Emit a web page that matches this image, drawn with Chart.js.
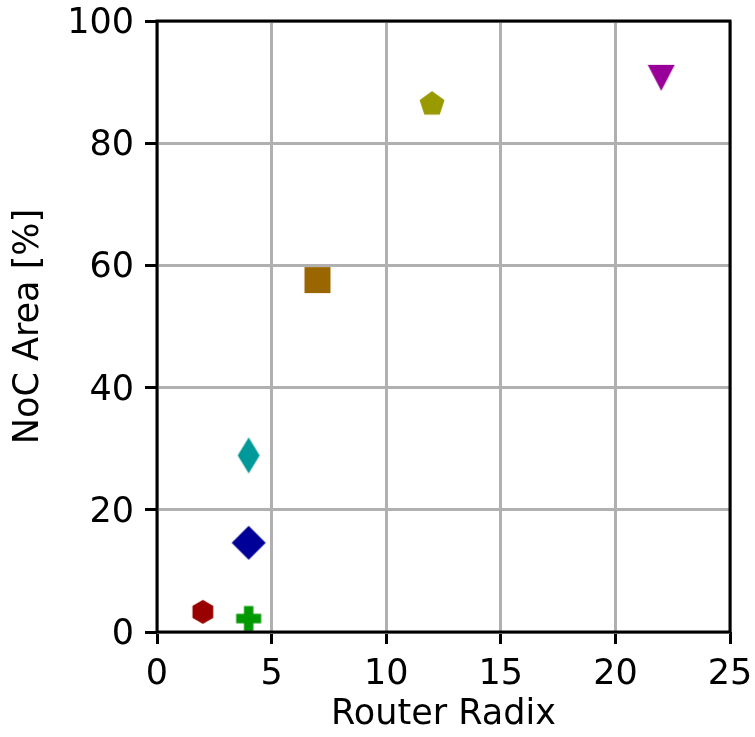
<!DOCTYPE html>
<html>
<head>
<meta charset="utf-8">
<script src="https://cdn.jsdelivr.net/npm/chart.js@4/dist/chart.umd.min.js"></script>
<style>
html,body{margin:0;padding:0;background:#fff;}
#wrap{width:755px;height:737px;}
</style>
</head>
<body>
<div id="wrap"><canvas id="c" width="755" height="737"></canvas></div>
<script>
// Data
const radix    = [2, 4, 4, 4, 7, 12, 22];
const nocArea  = [3.3, 2.2, 14.6, 28.9, 57.6, 86.4, 90.7];
const xTicks   = [0, 5, 10, 15, 20, 25];
const yTicks   = [0, 20, 40, 60, 80, 100];

// Styles
const markerShapes = ['hexagon', 'plus', 'diamond', 'thinDiamond', 'square', 'pentagon', 'triangleDown'];
const markerColors = ['#990000', '#009900', '#000099', '#009999', '#996600', '#999900', '#990099'];

function makeMarker(shape, color) {
  const c = document.createElement('canvas');
  let w = 28, h = 28;
  if (shape === 'diamond') { w = 36; h = 36; }
  if (shape === 'thinDiamond') { w = 24; h = 38; }
  c.width = w; c.height = h;
  const g = c.getContext('2d');
  g.fillStyle = color;
  const cx = w / 2, cy = h / 2;
  g.beginPath();
  if (shape === 'hexagon') {
    const r = 12;
    for (let i = 0; i < 6; i++) {
      const a = -Math.PI / 2 + i * Math.PI / 3;
      const px = cx + r * Math.cos(a), py = cy + r * Math.sin(a);
      i ? g.lineTo(px, py) : g.moveTo(px, py);
    }
  } else if (shape === 'pentagon') {
    const r = 13.1;
    for (let i = 0; i < 5; i++) {
      const a = -Math.PI / 2 + i * 2 * Math.PI / 5;
      const px = cx + r * Math.cos(a), py = cy + r * Math.sin(a);
      i ? g.lineTo(px, py) : g.moveTo(px, py);
    }
  } else if (shape === 'plus') {
    const s = 12.5, t = 4.7;
    g.rect(cx - s, cy - t, 2 * s, 2 * t);
    g.rect(cx - t, cy - s, 2 * t, 2 * s);
  } else if (shape === 'diamond') {
    g.moveTo(cx, cy - 17); g.lineTo(cx + 17, cy); g.lineTo(cx, cy + 17); g.lineTo(cx - 17, cy);
  } else if (shape === 'thinDiamond') {
    g.moveTo(cx, cy - 18); g.lineTo(cx + 11, cy); g.lineTo(cx, cy + 18); g.lineTo(cx - 11, cy);
  } else if (shape === 'square') {
    g.rect(cx - 13, cy - 13, 26, 26);
  } else if (shape === 'triangleDown') {
    g.moveTo(cx - 13.5, cy - 13); g.lineTo(cx + 13.5, cy - 13); g.lineTo(cx, cy + 13);
  }
  g.closePath();
  g.fill('nonzero');
  return c;
}

const datasets = radix.map((x, i) => ({
  data: [{ x: x, y: nocArea[i] }],
  pointStyle: makeMarker(markerShapes[i], markerColors[i]),
  backgroundColor: markerColors[i],
  borderColor: markerColors[i],
  showLine: false,
  clip: false
}));

const frame = {
  id: 'frame',
  afterDatasetsDraw(chart) {
    const a = chart.chartArea, ctx = chart.ctx;
    ctx.save();
    ctx.strokeStyle = '#000';
    ctx.lineWidth = 3;
    ctx.strokeRect(a.left, a.top, a.right - a.left, a.bottom - a.top);
    ctx.restore();
  }
};

const tickFont = { family: 'DejaVu Sans', size: 35 };
const titleFont = { family: 'DejaVu Sans', size: 35 };

new Chart(document.getElementById('c'), {
  type: 'scatter',
  data: { datasets },
  plugins: [frame],
  options: {
    responsive: false,
    animation: false,
    events: [],
    layout: { padding: { top: 21, right: 25, left: 0, bottom: 0 } },
    plugins: { legend: { display: false }, tooltip: { enabled: false } },
    scales: {
      x: {
        type: 'linear', min: 0, max: 25,
        afterBuildTicks: s => { s.ticks = xTicks.map(v => ({ value: v })); },
        afterFit: s => { s.height = 105; s.paddingLeft = 0; s.paddingRight = 0; s.paddingTop = 0; s.paddingBottom = 0; },
        grid: { color: '#b0b0b0', lineWidth: 3, tickColor: '#000', tickLength: 12, tickWidth: 3 },
        border: { display: false },
        ticks: { color: '#000', font: tickFont, padding: 10, maxRotation: 0 },
        title: { display: true, text: 'Router Radix', color: '#000', font: titleFont, padding: { top: 0, bottom: 1 } }
      },
      y: {
        type: 'linear', min: 0, max: 100,
        afterBuildTicks: s => { s.ticks = yTicks.map(v => ({ value: v })); },
        afterFit: s => { s.width = 157; s.paddingLeft = 0; s.paddingRight = 0; s.paddingTop = 0; s.paddingBottom = 0; },
        grid: { color: '#b0b0b0', lineWidth: 3, tickColor: '#000', tickLength: 12, tickWidth: 3 },
        border: { display: false },
        ticks: { color: '#000', font: tickFont, padding: 11, labelOffset: 3 },
        title: { display: true, text: 'NoC Area [%]', color: '#000', font: titleFont, padding: { top: 8, bottom: 0 } }
      }
    }
  }
});
</script>
</body>
</html>
